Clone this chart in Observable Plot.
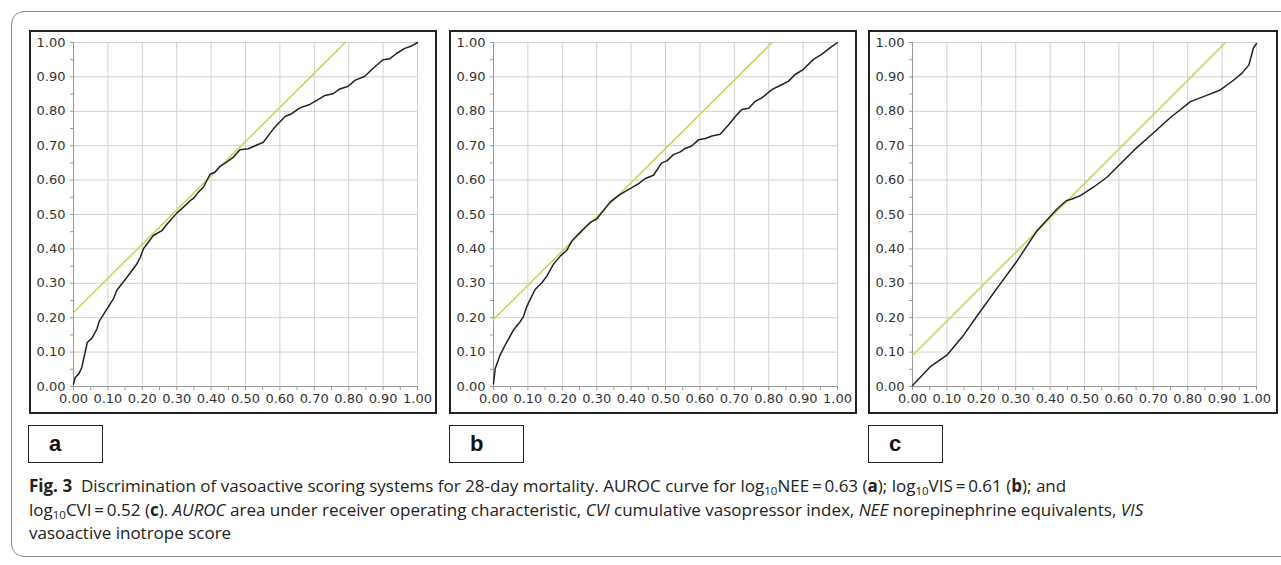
<!DOCTYPE html>
<html>
<head>
<meta charset="utf-8">
<script src="https://cdn.jsdelivr.net/npm/d3@7"></script>
<script src="https://cdn.jsdelivr.net/npm/@observablehq/plot@0.6"></script>
<style>
  html, body { margin: 0; padding: 0; background: #fff; }
  body { width: 1281px; height: 565px; position: relative; overflow: hidden; font-family: "Open Sans", sans-serif; }
  .frame { position: absolute; left: 11px; top: 11px; width: 1290px; height: 546px; border: 1px solid #8a8a8a; border-radius: 13px; box-sizing: border-box; }
  .panel { position: absolute; top: 30px; border: 2px solid #222; box-shadow: inset 0 0 0 1px #bbb; background: #fff; }
  .panel svg { display: block; }
  .panel svg text { font-family: "DejaVu Sans", sans-serif; font-size: 13px; fill: #333; }
  .lab { position: absolute; top: 425px; height: 38px; width: 75px; border: 1.5px solid #222; box-sizing: border-box; padding-left: 20px;
         font-family: "Liberation Sans", Arial, sans-serif; font-weight: bold; font-size: 22px; line-height: 35px; text-align: left; color: #111; }
  .caption { position: absolute; left: 29px; top: 474px; font-size: 17px; line-height: 23.5px; color: #222; white-space: nowrap; }
  .caption sub { font-size: 11.5px; vertical-align: -3px; line-height: 0; }
</style>
</head>
<body>
<div class="frame"></div>
<div id="pa" class="panel" style="left:29px"></div>
<div id="pb" class="panel" style="left:449px"></div>
<div id="pc" class="panel" style="left:868px"></div>
<div class="lab" style="left:28px">a</div>
<div class="lab" style="left:449px">b</div>
<div class="lab" style="left:868px">c</div>
<div class="caption">
<b>Fig. 3</b>&nbsp; Discrimination of vasoactive scoring systems for 28-day mortality. AUROC curve for log<sub>10</sub>NEE&#8201;=&#8201;0.63 (<b>a</b>); log<sub>10</sub>VIS&#8201;=&#8201;0.61 (<b>b</b>); and<br>
log<sub>10</sub>CVI&#8201;=&#8201;0.52 (<b>c</b>). <i>AUROC</i> area under receiver operating characteristic, <i>CVI</i> cumulative vasopressor index, <i>NEE</i> norepinephrine equivalents, <i>VIS</i><br>
vasoactive inotrope score
</div>
<script>
// ---- data ----
const tickValues = [0, 0.1, 0.2, 0.3, 0.4, 0.5, 0.6, 0.7, 0.8, 0.9, 1.0];
const tickLabels = ["0.00","0.10","0.20","0.30","0.40","0.50","0.60","0.70","0.80","0.90","1.00"];
const minorTicks = [0,0.05,0.1,0.15,0.2,0.25,0.3,0.35,0.4,0.45,0.5,0.55,0.6,0.65,0.7,0.75,0.8,0.85,0.9,0.95,1.0];

// Panel a: log10 NEE
const rocA_x = [0,0.005,0.015,0.024,0.04,0.053,0.068,0.075,0.097,0.116,0.126,0.155,0.184,0.194,0.203,0.218,0.232,0.257,0.271,0.30,0.315,0.339,0.348,0.363,0.378,0.397,0.411,0.426,0.445,0.465,0.484,0.508,0.528,0.552,0.581,0.615,0.634,0.658,0.687,0.716,0.731,0.755,0.774,0.799,0.818,0.847,0.871,0.90,0.92,0.939,0.963,0.983,1.0];
const rocA_y = [0.007,0.026,0.036,0.055,0.128,0.14,0.167,0.19,0.225,0.255,0.28,0.317,0.356,0.375,0.40,0.42,0.439,0.453,0.471,0.504,0.517,0.54,0.546,0.565,0.58,0.617,0.623,0.64,0.652,0.667,0.688,0.691,0.70,0.71,0.749,0.785,0.793,0.81,0.82,0.837,0.846,0.851,0.865,0.873,0.89,0.902,0.925,0.95,0.953,0.968,0.983,0.99,1.0];
const refA_x = [0, 0.79];
const refA_y = [0.215, 1.0];

// Panel b: log10 VIS
const rocB_x = [0,0.005,0.019,0.039,0.058,0.078,0.087,0.097,0.111,0.121,0.14,0.155,0.174,0.194,0.213,0.228,0.247,0.266,0.281,0.30,0.315,0.339,0.363,0.388,0.397,0.421,0.44,0.465,0.489,0.504,0.523,0.543,0.557,0.576,0.596,0.616,0.635,0.659,0.683,0.703,0.722,0.742,0.761,0.78,0.809,0.833,0.857,0.877,0.901,0.93,0.955,0.979,1.0];
const rocB_y = [0.008,0.052,0.091,0.13,0.164,0.189,0.203,0.233,0.262,0.282,0.301,0.321,0.355,0.379,0.396,0.423,0.443,0.462,0.477,0.487,0.506,0.536,0.555,0.57,0.575,0.589,0.604,0.614,0.65,0.656,0.674,0.682,0.692,0.699,0.717,0.721,0.728,0.733,0.76,0.785,0.805,0.809,0.829,0.839,0.863,0.875,0.887,0.907,0.922,0.951,0.966,0.985,1.0];
const refB_x = [0, 0.81];
const refB_y = [0.195, 1.0];

// Panel c: log10 CVI
const rocC_x = [0,0.051,0.10,0.149,0.197,0.246,0.304,0.362,0.42,0.447,0.464,0.488,0.527,0.566,0.595,0.644,0.70,0.75,0.808,0.857,0.895,0.934,0.958,0.978,0.991,1.0];
const rocC_y = [0.003,0.057,0.091,0.15,0.218,0.286,0.365,0.453,0.516,0.54,0.545,0.555,0.58,0.609,0.638,0.687,0.737,0.782,0.828,0.847,0.862,0.891,0.911,0.935,0.984,0.997];
const refC_x = [0, 0.91];
const refC_y = [0.09, 1.0];

const fmt = d => tickLabels[tickValues.findIndex(v => Math.abs(v - d) < 1e-9)];
const toRows = (xs, ys) => xs.map((x, i) => ({x, y: ys[i]}));

function panel(rocX, rocY, refX, refY, w) {
  const roc = toRows(rocX, rocY);
  const ref = toRows(refX, refY);
  return Plot.plot({
    width: w, height: 380,
    marginLeft: 42, marginRight: w - 42 - 344, marginTop: 10, marginBottom: 26,
    style: {background: "#fff", overflow: "visible"},
    x: {domain: [0, 1], label: null},
    y: {domain: [0, 1], label: null},
    marks: [
      Plot.gridX(tickValues, {stroke: "#d0d0d0", strokeOpacity: 1, strokeWidth: 1}),
      Plot.gridY(tickValues, {stroke: "#d0d0d0", strokeOpacity: 1, strokeWidth: 1}),
      Plot.axisX(minorTicks, {tickSize: 4, text: null, stroke: "#999", label: null}),
      Plot.axisY(minorTicks, {tickSize: 3, text: null, stroke: "#999", label: null}),
      Plot.axisX(tickValues, {tickSize: 0, tickPadding: 7, tickFormat: fmt, label: null}),
      Plot.axisY(tickValues, {tickSize: 0, tickPadding: 8, tickFormat: fmt, label: null}),
      Plot.ruleX([0], {stroke: "#999"}),
      Plot.ruleY([0], {stroke: "#999"}),
      Plot.line(ref, {x: "x", y: "y", stroke: "#c9d65c", strokeWidth: 1.6}),
      Plot.line(roc, {x: "x", y: "y", stroke: "#222", strokeWidth: 1.5})
    ]
  });
}

document.getElementById("pa").appendChild(panel(rocA_x, rocA_y, refA_x, refA_y, 404));
document.getElementById("pb").appendChild(panel(rocB_x, rocB_y, refB_x, refB_y, 404));
document.getElementById("pc").appendChild(panel(rocC_x, rocC_y, refC_x, refC_y, 406));
</script>
</body>
</html>
